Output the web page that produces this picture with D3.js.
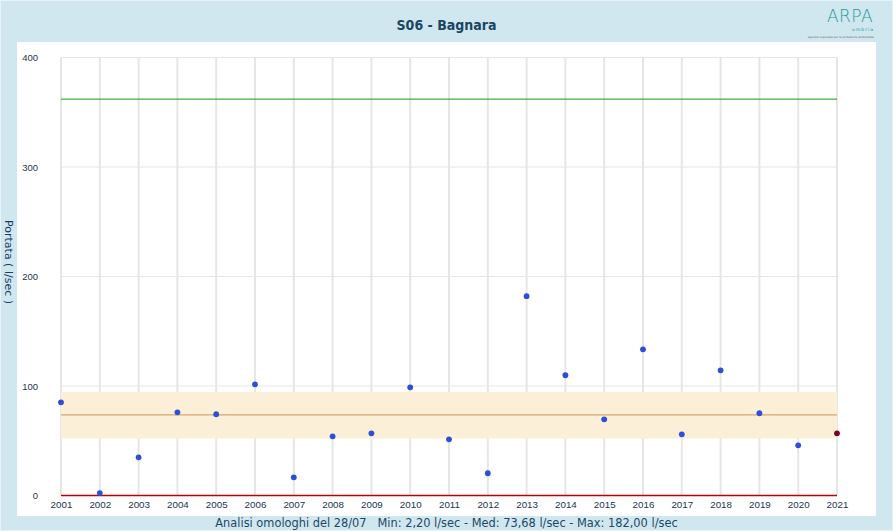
<!DOCTYPE html>
<html><head><meta charset="utf-8">
<script src="https://cdn.jsdelivr.net/npm/d3@7"></script>
<style>
html,body{margin:0;padding:0;background:#d0e7f0;}
svg{display:block;}
</style></head>
<body>
<svg id="chart" width="893" height="531"></svg>
<script>
const years = ["2001","2002","2003","2004","2005","2006","2007","2008","2009","2010","2011","2012","2013","2014","2015","2016","2017","2018","2019","2020","2021"];
const portata = [85.1,2.2,34.9,76.0,74.2,101.5,16.6,54.0,56.8,98.8,51.3,20.3,182.0,109.8,69.6,133.5,55.9,114.3,75.1,45.8,56.8];
const yTicks = [0,100,200,300,400];
const sogliaMax = [362];
const bandRange = [52, 94.5];
const mediana = [73.68];
const zeroLine = [0];
const titleText = "S06 - Bagnara";
const yLabel = "Portata ( l/sec )";
const footerText = "Analisi omologhi del 28/07\u00a0\u00a0 Min: 2,20 l/sec - Med: 73,68 l/sec - Max: 182,00 l/sec";

const svg = d3.select("#chart");
const W = 893, H = 531;
svg.append("rect").attr("x",0).attr("y",0).attr("width",W).attr("height",H).attr("fill","#d0e7f0");
svg.append("rect").attr("x",0.5).attr("y",0.5).attr("width",W-1).attr("height",H-1).attr("fill","none").attr("stroke","#e8f3f7").attr("stroke-width",1);
// white panel
svg.append("rect").attr("x",17).attr("y",42).attr("width",859).attr("height",474).attr("fill","#ffffff");

const x = d3.scalePoint().domain(years).range([61, 837]);
const y = d3.scaleLinear().domain([0,400]).range([495.5, 57.5]);

const g = svg.append("g");
// vertical grid
g.selectAll("line.vg").data(years).join("line").attr("class","vg")
  .attr("x1",d=>x(d)).attr("x2",d=>x(d)).attr("y1",y(400)).attr("y2",y(0))
  .attr("stroke","#e6e6e6").attr("stroke-width",2);
// horizontal grid
g.selectAll("line.hg").data(yTicks.filter(d=>d>0)).join("line").attr("class","hg")
  .attr("x1",x(years[0])).attr("x2",x(years[years.length-1])).attr("y1",d=>y(d)).attr("y2",d=>y(d))
  .attr("stroke","#e6e6e6").attr("stroke-width",1);

// band
g.append("rect").attr("x",x(years[0])).attr("width",x(years[years.length-1])-x(years[0]))
  .attr("y",y(bandRange[1])).attr("height",y(bandRange[0])-y(bandRange[1]))
  .attr("fill","#fbf0d7");
// median
g.selectAll("line.med").data(mediana).join("line").attr("class","med")
  .attr("x1",x(years[0])).attr("x2",x(years[years.length-1])).attr("y1",d=>y(d)).attr("y2",d=>y(d))
  .attr("stroke","#d6a676").attr("stroke-width",1.2);
// green threshold
g.selectAll("line.sog").data(sogliaMax).join("line").attr("class","sog")
  .attr("x1",x(years[0])).attr("x2",x(years[years.length-1])).attr("y1",d=>y(d)).attr("y2",d=>y(d))
  .attr("stroke","#149a14").attr("stroke-width",1);
// zero line
g.selectAll("line.zero").data(zeroLine).join("line").attr("class","zero")
  .attr("x1",x(years[0])).attr("x2",x(years[years.length-1])).attr("y1",d=>y(d)).attr("y2",d=>y(d))
  .attr("stroke","#c00000").attr("stroke-width",1.5);

// axes
const yAxis = d3.axisLeft(y).tickValues(yTicks).tickSize(0).tickPadding(23).tickFormat(d3.format("d"));
const ya = svg.append("g").attr("transform",`translate(${x(years[0])},0)`).call(yAxis);
ya.select(".domain").remove();
ya.selectAll("text").attr("font-family","Liberation Sans, Arial, sans-serif").attr("font-size","9.5px").attr("fill","#1b3550");

const xAxis = d3.axisBottom(x).tickSize(0).tickPadding(6);
const xa = svg.append("g").attr("transform",`translate(0,${y(0)})`).call(xAxis);
xa.select(".domain").remove();
xa.selectAll("text").attr("font-family","Liberation Sans, Arial, sans-serif").attr("font-size","9.8px").attr("fill","#1b3550");

// points
g.selectAll("circle.pt").data(years.map((yr,i)=>({yr,v:portata[i],last:i===years.length-1}))).join("circle")
  .attr("class","pt").attr("cx",d=>x(d.yr)).attr("cy",d=>y(d.v)).attr("r",2.9)
  .attr("fill",d=>d.last?"#7a0028":"#2d4fd8");

// title
svg.append("text").attr("x",446.5).attr("y",30).attr("text-anchor","middle")
  .attr("font-family","DejaVu Sans Condensed, DejaVu Sans, sans-serif").attr("font-weight","bold").attr("font-size","14px")
  .attr("fill","#1a4660").text(titleText);

// y label
svg.append("text").attr("transform","translate(5,262) rotate(90)").attr("text-anchor","middle")
  .attr("font-family","DejaVu Sans, Verdana, sans-serif").attr("font-size","11px")
  .attr("fill","#1a3d66").text(yLabel);

// footer
svg.append("text").attr("x",446.5).attr("y",527).attr("text-anchor","middle")
  .attr("font-family","DejaVu Sans, Verdana, sans-serif").attr("font-size","11.4px")
  .attr("fill","#1d4866").text(footerText);

// logo
const logo = svg.append("g");
logo.append("text").attr("x",850).attr("y",22).attr("text-anchor","middle")
  .attr("font-family","DejaVu Sans, sans-serif").attr("font-size","17px").attr("font-weight","300")
  .attr("letter-spacing","0.5px").attr("fill","#1f9a98").text("ARPA");
logo.append("text").attr("x",874).attr("y",31).attr("text-anchor","end")
  .attr("font-family","DejaVu Sans, sans-serif").attr("font-size","4.5px").attr("letter-spacing","1px")
  .attr("fill","#1f9a98").text("umbria");
logo.append("text").attr("x",874).attr("y",37.5).attr("text-anchor","end")
  .attr("font-family","DejaVu Sans, sans-serif").attr("font-size","2.8px")
  .attr("fill","#666").text("agenzia regionale per la protezione ambientale");
</script>
</body></html>
